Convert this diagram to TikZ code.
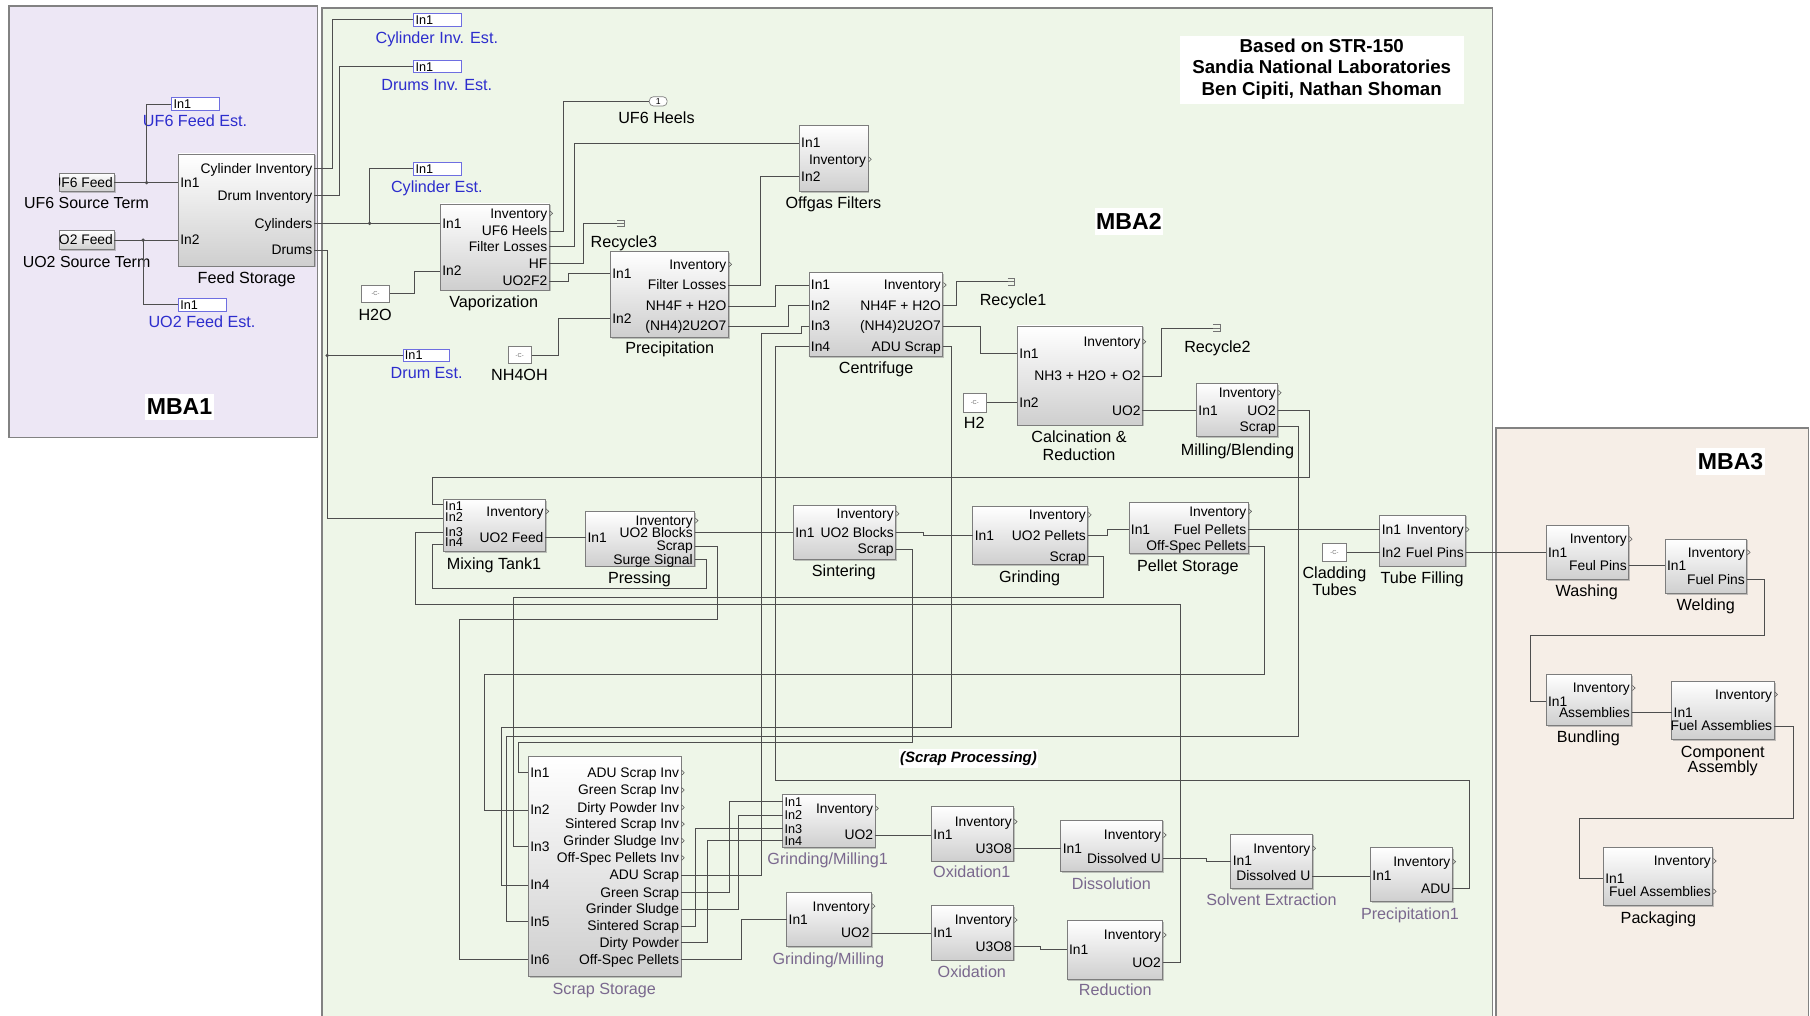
\documentclass[tikz,border=0pt]{standalone}
\usepackage{fontspec}
\setmainfont{Liberation Sans}
\usetikzlibrary{shadows}
\definecolor{wirec}{RGB}{78,78,78}
\definecolor{blkb}{RGB}{125,125,125}
\definecolor{mbaone}{RGB}{237,231,245}
\definecolor{mbatwo}{RGB}{238,246,232}
\definecolor{mbathree}{RGB}{246,238,231}
\definecolor{mbab}{RGB}{130,130,130}
\definecolor{estblue}{RGB}{45,45,205}
\definecolor{estbox}{RGB}{110,110,225}
\definecolor{subtxt}{RGB}{122,104,142}
\tikzset{
  wire/.style={draw=wirec,line width=0.8pt},
  blk/.style={draw=blkb,line width=0.7pt,top color=white,bottom color=black!19,inner sep=0pt,
    drop shadow={shadow xshift=1.2pt,shadow yshift=-1.2pt,fill=black!45}},
  cst/.style={draw=blkb,line width=0.6pt,fill=white,inner sep=0pt,text=black!60,font=\fontsize{5}{5}\selectfont},
  estb/.style={draw=estbox,line width=0.8pt,fill=white,inner sep=0pt},
  estin/.style={inner sep=0pt,font=\fontsize{11}{12}\selectfont},
  port/.style={inner sep=0pt,font=\fontsize{12}{14}\selectfont},
  sport/.style={inner sep=0pt,font=\fontsize{11}{12}\selectfont},
  lab/.style={inner sep=0pt,font=\fontsize{14}{16}\selectfont},
  labs/.style={inner sep=0pt,font=\fontsize{13.8}{16}\selectfont},
  labp/.style={inner sep=0pt,text=subtxt,font=\fontsize{14}{16}\selectfont},
  labb/.style={inner sep=0pt,text=estblue,font=\fontsize{14}{16}\selectfont},
  chev/.style={draw=black!65,line width=0.5pt},
  termst/.style={draw=black!55,line width=0.6pt},
  mbat/.style={fill=white,inner xsep=1.5pt,inner ysep=4.5pt,font=\bfseries\fontsize{20}{22}\selectfont},
  cred/.style={inner sep=0pt,font=\bfseries\fontsize{16.2}{18}\selectfont},
}
\newcommand\blk[5]{\node[blk,minimum width={(#4)-(#2)},minimum height={(#5)-(#3)}] (#1) at ({((#2)+(#4))/2},{((#3)+(#5))/2}) {};}
\newcommand\op[4]{\coordinate (#1) at (#2,#3);\node[port,anchor=base east] (#1-t) at ({(#2)-1.5},{(#3)+4.2}) {#4};}
\newcommand\oq[4]{\op{#1}{#2}{#3}{#4}\draw[chev] ({(#2)+0.5},{(#3)-2.2}) -- ({(#2)+2.9},{#3}) -- ({(#2)+0.5},{(#3)+2.2});}
\newcommand\ip[4]{\coordinate (#1) at (#2,#3);\node[port,anchor=base west] (#1-t) at ({(#2)+1.5},{(#3)+4.2}) {#4};}
\newcommand\lab[5][lab]{\node[#1,anchor=base] (#2) at (#3,{(#4)+5}) {#5};}
\newcommand\cst[5]{\node[cst,minimum width={(#4)-(#2)},minimum height={(#5)-(#3)}] (#1) at ({((#2)+(#4))/2},{((#3)+(#5))/2}) {-C-};}
\newcommand\est[5]{\node[estb,minimum width={(#4)-(#2)},minimum height={(#5)-(#3)}] (#1) at ({((#2)+(#4))/2},{((#3)+(#5))/2}) {};\node[estin,anchor=base west] (#1-t) at ({(#2)+1.5},{((#3)+(#5))/2+3.8}) {In1};}
\newcommand\term[3]{\coordinate (#1) at (#2,#3);\draw[termst] (#2,{(#3)-3}) -- ({(#2)+6},{(#3)-3}) -- ({(#2)+6},{(#3)+3}) -- (#2,{(#3)+3}) (#2,#3) -- ({(#2)+6},#3);}
\begin{document}
\begin{tikzpicture}[x=1pt,y=-1pt]
\clip (0,0) rectangle (1568,880);
\fill[white] (0,0) rectangle (1568,880);
% ---------- regions ----------
\draw[mbab,line width=1.4pt,fill=mbaone] (8,5) rectangle (275,379);
\draw[mbab,line width=1.4pt,fill=mbatwo] (278.8,7) rectangle (1293,900);
\draw[mbab,line width=1.4pt,fill=mbathree] (1296,371) rectangle (1566.6,900);
\node[mbat] (mba1t) at (155.5,352.5) {MBA1};
\node[mbat] (mba2t) at (978,192) {MBA2};
\node[mbat] (mba3t) at (1499.2,400.1) {MBA3};
\node[fill=white,minimum width=246,minimum height=59,inner sep=0pt] (credbox) at (1145,60.5) {};
\node[cred,anchor=base] (cred1) at (1145,45.8) {Based on STR-150};
\node[cred,anchor=base] (cred2) at (1145,63.8) {Sandia National Laboratories};
\node[cred,anchor=base] (cred3) at (1145,82.8) {Ben Cipiti, Nathan Shoman};
\node[fill=white,inner xsep=1pt,inner ysep=2.5pt,font=\bfseries\itshape\fontsize{13}{15}\selectfont] (scrapt) at (839,657) {(Scrap Processing)};
% ---------- MBA1 ----------
\blk{src1}{51.5}{150}{99}{166}
\begin{scope}\clip (51.5,150) rectangle (99,166);\node[port,anchor=base east] (src1t) at (98,162.2) {UF6 Feed};\end{scope}
\blk{src2}{51.5}{200}{99}{216}
\begin{scope}\clip (51.5,200) rectangle (99,216);\node[port,anchor=base east] (src2t) at (98,212.2) {UO2 Feed};\end{scope}
\coordinate (s1o) at (99,158.2);
\coordinate (s2o) at (99,208);
\lab[labs]{src1l}{75}{175.6}{UF6 Source Term}
\lab[labs]{src2l}{75}{226.6}{UO2 Source Term}
\blk{fs}{154.5}{133.4}{272.3}{230.4}
\ip{fs-i1}{154.5}{158.2}{In1}
\ip{fs-i2}{154.5}{208}{In2}
\op{fs-ci}{272.3}{146}{Cylinder Inventory}
\op{fs-di}{272.3}{169.5}{Drum Inventory}
\op{fs-cy}{272.3}{193.5}{Cylinders}
\op{fs-dr}{272.3}{216.6}{Drums}
\lab{fsl}{213.7}{240.5}{Feed Storage}
\est{ufest}{148.7}{84.6}{190}{95.9}
\lab[labb]{ufestl}{169}{105}{UF6 Feed Est.}
\est{uoest}{154.5}{258.4}{195.8}{269.4}
\lab[labb]{uoestl}{175}{279}{UO2 Feed Est.}
\coordinate (j1) at (127,158.2);
\coordinate (j2) at (124,208);
% ---------- MBA2 estimators ----------
\est{cie}{358.3}{11.5}{399.5}{22.5}
\lab[labb]{ciel}{378.4}{33}{Cylinder Inv. Est.}
\est{die}{358.3}{52.8}{399.5}{63}
\lab[labb]{diel}{378.4}{73.6}{Drums Inv. Est.}
\est{cye}{358.3}{141}{399.5}{151.6}
\lab[labb]{cyel}{378.4}{162}{Cylinder Est.}
\est{dre}{349.1}{302.6}{389.6}{313.3}
\lab[labb]{drel}{369.6}{323}{Drum Est.}
\coordinate (j3) at (320.2,193.5);
\coordinate (j4) at (283.5,307.95);
% ---------- Vaporization ----------
\blk{vap}{381.5}{176.7}{475.8}{251.2}
\oq{vap-inv}{475.8}{184.8}{Inventory}
\op{vap-uf6}{475.8}{200.1}{UF6 Heels}
\op{vap-fl}{475.8}{213.7}{Filter Losses}
\op{vap-hf}{475.8}{228.1}{HF}
\op{vap-uo}{475.8}{243.4}{UO2F2}
\ip{vap-i1}{381.5}{193.5}{In1}
\ip{vap-i2}{381.5}{234.8}{In2}
\lab{vapl}{427.7}{261}{Vaporization}
\cst{h2o}{313.4}{246.9}{337.2}{262.2}
\lab{h2ol}{325}{272.3}{H2O}
\node[draw=blkb,line width=0.6pt,fill=white,rounded corners=3.5pt,minimum width=15.4,minimum height=8,inner sep=0pt,font=\fontsize{7.5}{7.5}\selectfont] (heels) at (570.2,87.8) {1};
\lab{heelsl}{568.7}{101.6}{UF6 Heels}
\term{rec3}{534.6}{193.5}
\lab{rec3l}{540.5}{209}{Recycle3}
% ---------- Offgas ----------
\blk{off}{692.4}{108.3}{751.9}{166}
\ip{off-i1}{692.4}{124}{In1}
\oq{off-inv}{751.9}{138}{Inventory}
\ip{off-i2}{692.4}{153}{In2}
\lab{offl}{722}{175.5}{Offgas Filters}
% ---------- Precipitation ----------
\blk{pre}{528.8}{218}{630.9}{292.2}
\oq{pre-inv}{630.9}{229}{Inventory}
\op{pre-fl}{630.9}{246.9}{Filter Losses}
\op{pre-nh4f}{630.9}{265.1}{NH4F + H2O}
\op{pre-adu}{630.9}{282.4}{(NH4)2U2O7}
\ip{pre-i1}{528.8}{236.8}{In1}
\ip{pre-i2}{528.8}{275.8}{In2}
\lab{prel}{580.2}{301.2}{Precipitation}
\cst{nh4oh}{440.3}{300.3}{460.2}{314.8}
\lab{nh4ohl}{450}{325}{NH4OH}
% ---------- Centrifuge ----------
\blk{cen}{700.8}{236.2}{816.8}{309}
\ip{cen-i1}{700.8}{246.9}{In1}
\ip{cen-i2}{700.8}{264.4}{In2}
\ip{cen-i3}{700.8}{282.4}{In3}
\ip{cen-i4}{700.8}{300.3}{In4}
\oq{cen-inv}{816.8}{246.9}{Inventory}
\op{cen-nh4f}{816.8}{264.4}{NH4F + H2O}
\op{cen-adu}{816.8}{282.4}{(NH4)2U2O7}
\op{cen-scrap}{816.8}{300.3}{ADU Scrap}
\lab{cenl}{759}{318.5}{Centrifuge}
\term{rec1}{873}{244}
\lab{rec1l}{877.6}{260}{Recycle1}
% ---------- Calcination ----------
\blk{cal}{881.4}{282.4}{989.7}{368.2}
\oq{cal-inv}{989.7}{296}{Inventory}
\ip{cal-i1}{881.4}{306.1}{In1}
\op{cal-nh3}{989.7}{325.7}{NH3 + H2O + O2}
\ip{cal-i2}{881.4}{348.9}{In2}
\op{cal-uo2}{989.7}{355.8}{UO2}
\lab{call1}{934.8}{378.3}{Calcination \&}
\lab{call2}{934.8}{394.2}{Reduction}
\cst{h2}{834.2}{340.7}{854.7}{357.1}
\lab{h2l}{844}{366.5}{H2}
\term{rec2}{1050.9}{284.4}
\lab{rec2l}{1054.7}{300.3}{Recycle2}
% ---------- Milling ----------
\blk{mil}{1036.5}{332}{1106.9}{378.3}
\oq{mil-inv}{1106.9}{340.2}{Inventory}
\ip{mil-i1}{1036.5}{355.8}{In1}
\op{mil-uo2}{1106.9}{355.8}{UO2}
\op{mil-scrap}{1106.9}{369.6}{Scrap}
\lab{mill}{1072}{389.3}{Milling/Blending}
% ---------- Mixing ----------
\blk{mix}{384}{432.6}{472.5}{478}
\coordinate (mix-i1) at (384,437);
\coordinate (mix-i2) at (384,449);
\coordinate (mix-i3) at (384,461);
\coordinate (mix-i4) at (384,472);
\node[sport,anchor=base west] (mix-i1t) at (385.5,442) {In1};
\node[sport,anchor=base west] (mix-i2t) at (385.5,451.5) {In2};
\node[sport,anchor=base west] (mix-i3t) at (385.5,464.5) {In3};
\node[sport,anchor=base west] (mix-i4t) at (385.5,473.5) {In4};
\oq{mix-inv}{472.5}{443}{Inventory}
\op{mix-o}{472.5}{466}{UO2 Feed}
\lab{mixl}{428}{488.5}{Mixing Tank1}
% ---------- Pressing ----------
\blk{prs}{507.3}{443.3}{601.8}{490.3}
\oq{prs-inv}{601.8}{451}{Inventory}
\op{prs-blk}{601.8}{461}{UO2 Blocks}
\op{prs-scrap}{601.8}{473}{Scrap}
\op{prs-surge}{601.8}{485}{Surge Signal}
\ip{prs-i1}{507.3}{466}{In1}
\lab{prsl}{554}{500.5}{Pressing}
% ---------- Sintering ----------
\blk{sin}{687.3}{437.5}{775.9}{484.5}
\oq{sin-inv}{775.9}{445}{Inventory}
\ip{sin-i1}{687.3}{461}{In1}
\op{sin-blk}{775.9}{461}{UO2 Blocks}
\op{sin-scrap}{775.9}{475.7}{Scrap}
\lab{sinl}{731}{494.5}{Sintering}
% ---------- Grinding ----------
\blk{grd}{842.8}{439}{942.4}{488.9}
\oq{grd-inv}{942.4}{446}{Inventory}
\ip{grd-i1}{842.8}{464}{In1}
\op{grd-pel}{942.4}{464}{UO2 Pellets}
\op{grd-scrap}{942.4}{482}{Scrap}
\lab{grdl}{892}{499.5}{Grinding}
% ---------- Pellet storage ----------
\blk{pel}{978}{435.2}{1081.3}{479.4}
\oq{pel-inv}{1081.3}{443}{Inventory}
\ip{pel-i1}{978}{458.7}{In1}
\op{pel-fp}{1081.3}{458.7}{Fuel Pellets}
\op{pel-os}{1081.3}{473}{Off-Spec Pellets}
\lab{pell}{1029}{490}{Pellet Storage}
% ---------- Tube filling ----------
\blk{tub}{1195.3}{446.2}{1269.7}{490.3}
\ip{tub-i1}{1195.3}{458.7}{In1}
\oq{tub-inv}{1269.7}{458.7}{Inventory}
\ip{tub-i2}{1195.3}{478.5}{In2}
\op{tub-fp}{1269.7}{478.5}{Fuel Pins}
\lab{tubl}{1232}{500.5}{Tube Filling}
\cst{clad}{1145.7}{471}{1166.4}{486}
\lab{cladl1}{1156}{496}{Cladding}
\lab{cladl2}{1156}{511}{Tubes}
% ---------- Scrap storage ----------
\blk{ss}{457.7}{655.6}{589.9}{846.2}
\ip{ss-i1}{457.7}{669.4}{In1}
\ip{ss-i2}{457.7}{701.8}{In2}
\ip{ss-i3}{457.7}{733.5}{In3}
\ip{ss-i4}{457.7}{766.7}{In4}
\ip{ss-i5}{457.7}{798.5}{In5}
\ip{ss-i6}{457.7}{831.1}{In6}
\oq{ss-o1}{589.9}{669.4}{ADU Scrap Inv}
\oq{ss-o2}{589.9}{684.4}{Green Scrap Inv}
\oq{ss-o3}{589.9}{699.5}{Dirty Powder Inv}
\oq{ss-o4}{589.9}{713.9}{Sintered Scrap Inv}
\oq{ss-o5}{589.9}{728.3}{Grinder Sludge Inv}
\oq{ss-o6}{589.9}{743.1}{Off-Spec Pellets Inv}
\op{ss-adu}{589.9}{758.1}{ADU Scrap}
\op{ss-green}{589.9}{773.1}{Green Scrap}
\op{ss-sludge}{589.9}{787.5}{Grinder Sludge}
\op{ss-sint}{589.9}{802.3}{Sintered Scrap}
\op{ss-dirty}{589.9}{816.7}{Dirty Powder}
\op{ss-off}{589.9}{831.1}{Off-Spec Pellets}
\lab[labp]{ssl}{523.5}{856.3}{Scrap Storage}
% ---------- Grinding/Milling1 ----------
\blk{gm1}{678}{687.9}{758}{734.1}
\coordinate (gm1-i1) at (678,694.5);
\coordinate (gm1-i2) at (678,706.1);
\coordinate (gm1-i3) at (678,717.7);
\coordinate (gm1-i4) at (678,728.3);
\node[sport,anchor=base west] (gm1-i1t) at (679.5,698.5) {In1};
\node[sport,anchor=base west] (gm1-i2t) at (679.5,710.1) {In2};
\node[sport,anchor=base west] (gm1-i3t) at (679.5,721.7) {In3};
\node[sport,anchor=base west] (gm1-i4t) at (679.5,732.3) {In4};
\oq{gm1-inv}{758}{700.3}{Inventory}
\op{gm1-uo2}{758}{723.4}{UO2}
\lab[labp]{gm1l}{717}{743.6}{Grinding/Milling1}
% ---------- Grinding/Milling ----------
\blk{gm}{681.5}{773.4}{755.1}{820.2}
\oq{gm-inv}{755.1}{785}{Inventory}
\ip{gm-i1}{681.5}{796.5}{In1}
\op{gm-uo2}{755.1}{808.3}{UO2}
\lab[labp]{gml}{717.6}{830.3}{Grinding/Milling}
% ---------- Oxidation1 / Oxidation ----------
\blk{ox1}{806.9}{698.8}{878.2}{745.9}
\oq{ox1-inv}{878.2}{711.8}{Inventory}
\ip{ox1-i1}{806.9}{723.4}{In1}
\op{ox1-u}{878.2}{734.9}{U3O8}
\lab[labp]{ox1l}{841.9}{755.1}{Oxidation1}
\blk{ox}{806.9}{784.6}{878.2}{831.7}
\oq{ox-inv}{878.2}{797}{Inventory}
\ip{ox-i1}{806.9}{808.3}{In1}
\op{ox-u}{878.2}{820.1}{U3O8}
\lab[labp]{oxl}{841.9}{841.8}{Oxidation}
% ---------- Dissolution / Reduction ----------
\blk{dis}{919}{710.4}{1007.4}{755.1}
\oq{dis-inv}{1007.4}{723.4}{Inventory}
\ip{dis-i1}{919}{734.9}{In1}
\op{dis-u}{1007.4}{743.6}{Dissolved U}
\lab[labp]{disl}{962.8}{765.8}{Dissolution}
\blk{red}{924.4}{797.6}{1007.4}{848.4}
\oq{red-inv}{1007.4}{810}{Inventory}
\ip{red-i1}{924.4}{822.4}{In1}
\op{red-uo2}{1007.4}{834}{UO2}
\lab[labp]{redl}{966.2}{857.7}{Reduction}
% ---------- Solvent / Precipitation1 ----------
\blk{sol}{1066.3}{722.5}{1136.8}{769.6}
\oq{sol-inv}{1136.8}{734.9}{Inventory}
\ip{sol-i1}{1066.3}{746}{In1}
\op{sol-u}{1136.8}{758.9}{Dissolved U}
\lab[labp]{soll}{1101.5}{779.7}{Solvent Extraction}
\blk{p1}{1187.2}{734.4}{1258.1}{781.1}
\oq{p1-inv}{1258.1}{746.5}{Inventory}
\ip{p1-i1}{1187.2}{758.9}{In1}
\op{p1-adu}{1258.1}{769.6}{ADU}
\lab[labp]{p1l}{1221.5}{791.2}{Precipitation1}
% ---------- MBA3 ----------
\blk{was}{1339.4}{455.4}{1411}{502.2}
\oq{was-inv}{1411}{467}{Inventory}
\ip{was-i1}{1339.4}{478.5}{In1}
\op{was-fp}{1411}{490}{Feul Pins}
\lab{wasl}{1374.6}{512.1}{Washing}
\blk{wel}{1442.5}{467}{1513.2}{514.4}
\oq{wel-inv}{1513.2}{478.5}{Inventory}
\ip{wel-i1}{1442.5}{490}{In1}
\op{wel-fp}{1513.2}{502.2}{Fuel Pins}
\lab{well}{1477.7}{524.3}{Welding}
\blk{bun}{1339.4}{584.5}{1413.6}{628.3}
\oq{bun-inv}{1413.6}{596}{Inventory}
\ip{bun-i1}{1339.4}{607.6}{In1}
\op{bun-as}{1413.6}{617}{Assemblies}
\lab{bunl}{1376}{637.9}{Bundling}
\blk{com}{1448.2}{590.1}{1536.9}{640.5}
\oq{com-inv}{1536.9}{601.6}{Inventory}
\ip{com-i1}{1448.2}{617}{In1}
\op{com-fa}{1536.9}{629}{Fuel Assemblies}
\lab{coml1}{1492.4}{651.4}{Component}
\lab{coml2}{1492.4}{663.8}{Assembly}
\blk{pak}{1389}{734.3}{1483.8}{784.7}
\oq{pak-inv}{1483.8}{745.9}{Inventory}
\ip{pak-i1}{1389}{761.3}{In1}
\oq{pak-fa}{1483.8}{772.2}{Fuel Assemblies}
\lab{pakl}{1436.7}{794.6}{Packaging}
% ---------- wires ----------
\draw[wire] (s1o) -- (fs-i1);
\draw[wire] (j1) |- (ufest.west);
\draw[wire] (s2o) -- (fs-i2);
\draw[wire] (j2) |- (uoest.west);
\draw[wire] (fs-ci) -| (287.7,17) -- (cie.west);
\draw[wire] (fs-di) -| (294.2,57.9) -- (die.west);
\draw[wire] (fs-cy) -- (vap-i1);
\draw[wire] (j3) |- (cye.west);
\draw[wire] (fs-dr) -| (283.5,449) -- (mix-i2);
\draw[wire] (j4) -- (dre.west);
\draw[wire] (vap-uf6) -| (488.3,87.8) -- (heels.west);
\draw[wire] (vap-fl) -| (497.5,124) -- (off-i1);
\draw[wire] (vap-hf) -| (505.5,193.5) -- (rec3);
\draw[wire] (vap-uo) -| (492.3,236.8) -- (pre-i1);
\draw[wire] (h2o.east) -| (358.7,234.8) -- (vap-i2);
\draw[wire] (pre-fl) -| (659.1,153) -- (off-i2);
\draw[wire] (pre-nh4f) -| (671.4,246.9) -- (cen-i1);
\draw[wire] (pre-adu) -| (683,264.4) -- (cen-i2);
\draw[wire] (nh4oh.east) -| (484.1,275.8) -- (pre-i2);
\draw[wire] (cen-nh4f) -| (829,244) -- (rec1);
\draw[wire] (cen-adu) -| (849.7,306.1) -- (cal-i1);
\draw[wire] (cen-scrap) -| (824.5,630.3) -| (434.6,766.7) -- (ss-i4);
\draw[wire] (cen-i3) -- (694.6,282.4) |- (660,288.8) |- (ss-adu);
\draw[wire] (cen-i4) -| (671.4,676.3) -| (1272.9,769.6) -- (p1-adu);
\draw[wire] (cal-nh3) -| (1006.3,284.4) -- (rec2);
\draw[wire] (h2.east) -- (cal-i2);
\draw[wire] (cal-uo2) -- (mil-i1);
\draw[wire] (mil-uo2) -| (1134.5,413.5) -| (374.7,437) -- (mix-i1);
\draw[wire] (mil-scrap) -| (1124.5,638.2) -| (438.9,798.5) -- (ss-i5);
\draw[wire] (mix-o) -- (prs-i1);
\draw[wire] (red-uo2) -| (1022.8,524) -| (359.8,461) -- (mix-i3);
\draw[wire] (prs-surge) -| (611.7,509.7) -| (374.7,472) -- (mix-i4);
\draw[wire] (prs-blk) -- (sin-i1);
\draw[wire] (prs-scrap) -| (621.7,537) -| (398,831.1) -- (ss-i6);
\draw[wire] (sin-blk) -| (800,464) -- (grd-i1);
\draw[wire] (sin-scrap) -| (790.5,643.5) -| (449,669.4) -- (ss-i1);
\draw[wire] (grd-pel) -| (959.7,458.7) -- (pel-i1);
\draw[wire] (grd-scrap) -| (955.8,517.4) -| (444.7,733.5) -- (ss-i3);
\draw[wire] (pel-fp) -- (tub-i1);
\draw[wire] (pel-os) -| (1095.5,584.7) -| (420.1,701.8) -- (ss-i2);
\draw[wire] (clad.east) -- (tub-i2);
\draw[wire] (tub-fp) -- (was-i1);
\draw[wire] (ss-green) -| (631.8,694.5) -- (gm1-i1);
\draw[wire] (ss-sludge) -| (639.6,706.1) -- (gm1-i2);
\draw[wire] (ss-sint) -| (602.9,717.7) -- (gm1-i3);
\draw[wire] (ss-dirty) -| (612.7,728.3) -- (gm1-i4);
\draw[wire] (ss-off) -| (642.5,796.5) -- (gm-i1);
\draw[wire] (gm1-uo2) -- (ox1-i1);
\draw[wire] (gm-uo2) -- (ox-i1);
\draw[wire] (ox1-u) -- (dis-i1);
\draw[wire] (ox-u) -| (901.1,822.4) -- (red-i1);
\draw[wire] (dis-u) -| (1045,746) -- (sol-i1);
\draw[wire] (sol-u) -- (p1-i1);
\draw[wire] (was-fp) -- (wel-i1);
\draw[wire] (wel-fp) -| (1528.5,550.6) -| (1325.5,607.6) -- (bun-i1);
\draw[wire] (bun-as) -- (com-i1);
\draw[wire] (com-fa) -| (1553.6,709) -| (1368.3,761.3) -- (pak-i1);
\fill[wirec] (j1) circle (1.6) (j2) circle (1.6) (j3) circle (1.6) (j4) circle (1.6);
\end{tikzpicture}
\end{document}
